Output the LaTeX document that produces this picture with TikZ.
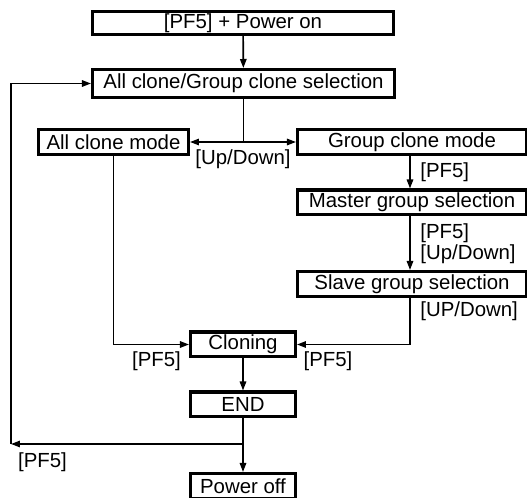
\documentclass[tikz,border=0pt]{standalone}
\usepackage{fontspec}
\setmainfont{Liberation Sans}
\usetikzlibrary{arrows.meta}
\tikzstyle{stepbox}=[draw, line width=1.6pt, inner sep=0, minimum height=12.4pt]
\tikzstyle{link}=[line width=0.85pt]
\tikzstyle{flow}=[link, -{Triangle[length=4.5pt, width=3.2pt]}]
\tikzstyle{key}=[inner sep=0]
\tikzstyle{clonechart}=[x=0.5pt, y=-0.5pt,
                        % Text size of the whole chart.
                        every node/.style={font=\fontsize{10.2pt}{12pt}\selectfont}]

\begin{document}
\begin{tikzpicture}[clonechart]
        \useasboundingbox (0,0) rectangle (527,498);
        \clip (0,0) rectangle (527,498);
        \fill[white] (0,0) rectangle (527,498);
        \node[stepbox, minimum width=150.4pt, minimum height=11.4pt] (poweron) at (243,23) {[PF5] + Power on};
        \node[stepbox, minimum width=150.9pt, minimum height=13.9pt] (select) at (243.5,83.5) {All clone/Group clone selection};
        \node[stepbox, minimum width=74.9pt] (allmode) at (113.5,142) {All clone mode};
        \node[stepbox, minimum width=114.4pt] (groupmode) at (412,142) {Group clone mode};
        \node[stepbox, minimum width=114.4pt] (master) at (412,202.5) {Master group selection};
        \node[stepbox, minimum width=114.4pt] (slave) at (412,284) {Slave group selection};
        \node[stepbox, minimum width=52.4pt] (cloning) at (243,344.5) {Cloning};
        \node[stepbox, minimum width=52.4pt] (end) at (243,404.5) {END};
        \node[stepbox, minimum width=52.4pt] (poweroff) at (243,486) {Power off};
        \coordinate (gx) at (410,0);
        \coordinate (back) at (11,444);
        \draw[flow] (poweron) -- (select);
        \draw[link] (select.south) -- (select.south |- allmode.east) coordinate (fork);
        \draw[flow] (fork) -- (allmode.east);
        \draw[flow] (fork) -- (groupmode.west);
        \draw[flow] (groupmode.south -| gx) -- (master.north -| gx);
        \draw[flow] (master.south -| gx) -- (slave.north -| gx);
        \draw[flow] (allmode.south) |- (cloning.west);
        \draw[flow] (slave.south -| gx) |- (cloning.east);
        \draw[flow] (cloning) -- (end);
        \draw[flow] (end) -- (poweroff);
        \draw[flow] (end.south |- back) -- (back);
        \draw[flow] (back) |- (select.west);
        \node[key] (updown) at (243,159) {[Up/Down]};
        \node[key, anchor=west] (pfgroup) at (420,172) {[PF5]};
        \node[key, anchor=west] (pfmaster) at (420,233) {[PF5]};
        \node[key, anchor=west] (udmaster) at (420,254) {[Up/Down]};
        \node[key, anchor=west] (udslave) at (420,311) {[UP/Down]};
        \node[key] (pfleft) at (156.5,361) {[PF5]};
        \node[key] (pfright) at (328,361) {[PF5]};
        \node[key] (pfback) at (42.5,462) {[PF5]};
    \end{tikzpicture}
\end{document}
